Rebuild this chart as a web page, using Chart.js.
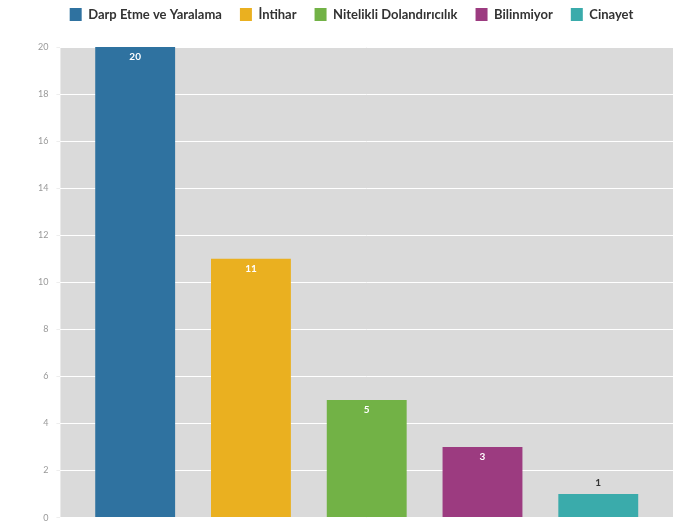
<!DOCTYPE html>
<html>
<head>
<meta charset="utf-8">
<script src="https://cdn.jsdelivr.net/npm/chart.js@4"></script>
<style>
html,body{margin:0;padding:0;background:#fff;}
#wrap{width:677px;height:531px;}
</style>
</head>
<body>
<div id="wrap"><canvas id="c" width="677" height="531"></canvas></div>
<script>
const categories = ["Darp Etme ve Yaralama", "İntihar", "Nitelikli Dolandırıcılık", "Bilinmiyor", "Cinayet"];
const values = [20, 11, 5, 3, 1];
const colors = ["#2f72a0", "#eab020", "#72b246", "#9c3b80", "#3aabab"];
const yTicks = [0, 2, 4, 6, 8, 10, 12, 14, 16, 18, 20];

const bgPlugin = {
  id: 'bgPlugin',
  beforeDraw(chart) {
    const a = chart.chartArea, ctx = chart.ctx;
    ctx.save();
    ctx.fillStyle = '#dadada';
    ctx.fillRect(a.left, a.top, a.right - a.left, a.bottom - a.top);
    ctx.restore();
  }
};
const legendSpace = {
  id: 'legendSpace',
  beforeInit(chart) {
    const orig = chart.legend.fit;
    chart.legend.fit = function () {
      orig.bind(chart.legend)();
      this.height += 16;
    };
  }
};
const labelPlugin = {
  id: 'labelPlugin',
  afterDatasetsDraw(chart) {
    const ctx = chart.ctx;
    ctx.save();
    ctx.font = 'bold 10px Lato, sans-serif';
    ctx.textAlign = 'center';
    ctx.textBaseline = 'middle';
    chart.data.datasets.forEach((ds, i) => {
      const meta = chart.getDatasetMeta(i);
      meta.data.forEach((bar, j) => {
        const v = ds.data[j];
        if (v == null) return;
        const h = bar.base - bar.y;
        if (h > 30) {
          ctx.fillStyle = '#ffffff';
          ctx.fillText(String(v), bar.x, bar.y + 10);
        } else {
          ctx.fillStyle = '#333333';
          ctx.fillText(String(v), bar.x, bar.y - 11);
        }
      });
    });
    ctx.restore();
  }
};

new Chart(document.getElementById('c'), {
  type: 'bar',
  data: {
    labels: [''],
    datasets: categories.map((c, i) => ({
      label: c,
      data: [values[i]],
      backgroundColor: colors[i],
      borderWidth: 0,
      barPercentage: 0.69,
      categoryPercentage: 0.945
    }))
  },
  options: {
    responsive: false,
    animation: false,
    devicePixelRatio: 1,
    layout: { padding: { left: 30, right: 4, top: -10, bottom: 0 } },
    plugins: {
      legend: {
        position: 'top',
        labels: {
          boxWidth: 12, boxHeight: 13, padding: 18,
          color: '#333',
          font: { family: 'Lato, sans-serif', size: 13, weight: 'bold' }
        }
      },
      tooltip: { enabled: false }
    },
    scales: {
      x: {
        grid: { display: false },
        border: { display: false },
        ticks: { display: false }
      },
      y: {
        min: 0, max: 20,
        afterBuildTicks(axis) { axis.ticks = yTicks.map(v => ({ value: v })); },
        grid: { color: '#ffffff', lineWidth: 1, drawTicks: true, tickLength: 4, tickColor: '#eeeeee' },
        border: { display: false },
        ticks: { color: '#999', font: { family: 'Lato, sans-serif', size: 9 }, padding: 8 }
      }
    }
  },
  plugins: [bgPlugin, legendSpace, labelPlugin]
});
</script>
</body>
</html>
